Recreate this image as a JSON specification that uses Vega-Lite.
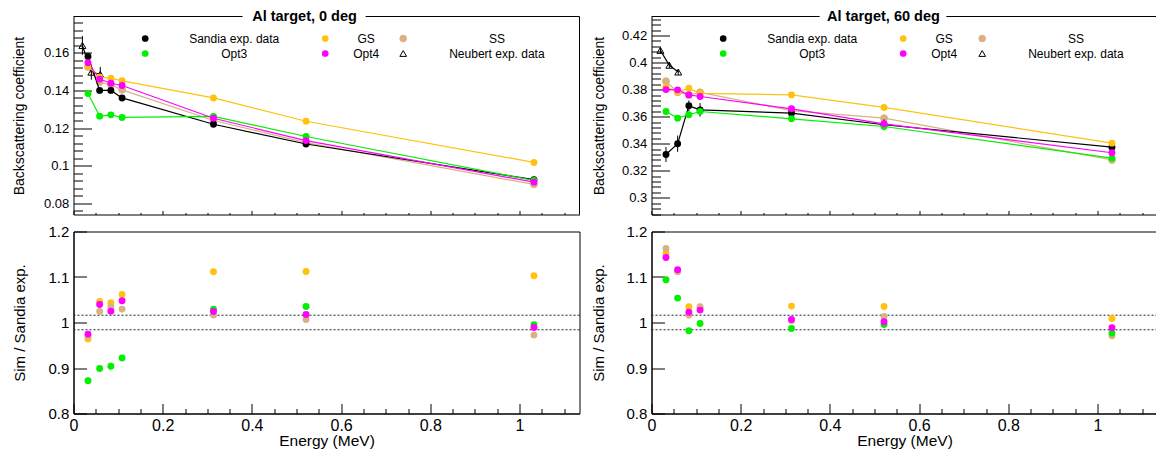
{
  "$schema": "https://vega.github.io/schema/vega-lite/v6.json",
  "description": "Al target backscattering coefficient, 0 and 60 deg, with sim / Sandia ratios",
  "background": "white",
  "padding": {"left": 11.5, "top": 8.5, "right": 0, "bottom": 0},
  "datasets": {
    "bs": [
      {"a": 0, "s": "Neubert exp. data", "E": 0.02, "v": 0.1639, "err": 0.005},
      {"a": 0, "s": "Neubert exp. data", "E": 0.04, "v": 0.1497, "err": 0.004},
      {"a": 0, "s": "Neubert exp. data", "E": 0.06, "v": 0.1485, "err": 0.004},
      {"a": 0, "s": "SS", "E": 0.0325, "v": 0.1525},
      {"a": 0, "s": "SS", "E": 0.0586, "v": 0.1444},
      {"a": 0, "s": "SS", "E": 0.0838, "v": 0.143},
      {"a": 0, "s": "SS", "E": 0.1089, "v": 0.1403},
      {"a": 0, "s": "SS", "E": 0.3139, "v": 0.124},
      {"a": 0, "s": "SS", "E": 0.5214, "v": 0.1122},
      {"a": 0, "s": "SS", "E": 1.0324, "v": 0.09},
      {"a": 0, "s": "Sandia exp. data", "E": 0.0325, "v": 0.158, "err": 0.0015},
      {"a": 0, "s": "Sandia exp. data", "E": 0.0586, "v": 0.14, "err": 0.0015},
      {"a": 0, "s": "Sandia exp. data", "E": 0.0838, "v": 0.14, "err": 0.0015},
      {"a": 0, "s": "Sandia exp. data", "E": 0.1089, "v": 0.136, "err": 0.0015},
      {"a": 0, "s": "Sandia exp. data", "E": 0.3139, "v": 0.122, "err": 0.0015},
      {"a": 0, "s": "Sandia exp. data", "E": 0.5214, "v": 0.1115, "err": 0.0015},
      {"a": 0, "s": "Sandia exp. data", "E": 1.0324, "v": 0.0925, "err": 0.0015},
      {"a": 0, "s": "Opt3", "E": 0.0325, "v": 0.1383},
      {"a": 0, "s": "Opt3", "E": 0.0586, "v": 0.1263},
      {"a": 0, "s": "Opt3", "E": 0.0838, "v": 0.127},
      {"a": 0, "s": "Opt3", "E": 0.1089, "v": 0.1256},
      {"a": 0, "s": "Opt3", "E": 0.3139, "v": 0.1262},
      {"a": 0, "s": "Opt3", "E": 0.5214, "v": 0.1155},
      {"a": 0, "s": "Opt3", "E": 1.0324, "v": 0.0921},
      {"a": 0, "s": "GS", "E": 0.0325, "v": 0.153},
      {"a": 0, "s": "GS", "E": 0.0586, "v": 0.147},
      {"a": 0, "s": "GS", "E": 0.0838, "v": 0.1465},
      {"a": 0, "s": "GS", "E": 0.1089, "v": 0.1451},
      {"a": 0, "s": "GS", "E": 0.3139, "v": 0.136},
      {"a": 0, "s": "GS", "E": 0.5214, "v": 0.1236},
      {"a": 0, "s": "GS", "E": 1.0324, "v": 0.1017},
      {"a": 0, "s": "Opt4", "E": 0.0325, "v": 0.1547},
      {"a": 0, "s": "Opt4", "E": 0.0586, "v": 0.146},
      {"a": 0, "s": "Opt4", "E": 0.0838, "v": 0.1438},
      {"a": 0, "s": "Opt4", "E": 0.1089, "v": 0.1426},
      {"a": 0, "s": "Opt4", "E": 0.3139, "v": 0.1252},
      {"a": 0, "s": "Opt4", "E": 0.5214, "v": 0.1133},
      {"a": 0, "s": "Opt4", "E": 1.0324, "v": 0.0912},
      {"a": 60, "s": "Neubert exp. data", "E": 0.02, "v": 0.409, "err": 0.002},
      {"a": 60, "s": "Neubert exp. data", "E": 0.04, "v": 0.398, "err": 0.002},
      {"a": 60, "s": "Neubert exp. data", "E": 0.06, "v": 0.393, "err": 0.002},
      {"a": 60, "s": "SS", "E": 0.0325, "v": 0.3862},
      {"a": 60, "s": "SS", "E": 0.0586, "v": 0.378},
      {"a": 60, "s": "SS", "E": 0.0838, "v": 0.376},
      {"a": 60, "s": "SS", "E": 0.1089, "v": 0.378},
      {"a": 60, "s": "SS", "E": 0.3139, "v": 0.3645},
      {"a": 60, "s": "SS", "E": 0.5214, "v": 0.3589},
      {"a": 60, "s": "SS", "E": 1.0324, "v": 0.328},
      {"a": 60, "s": "Sandia exp. data", "E": 0.0325, "v": 0.332, "err": 0.0055},
      {"a": 60, "s": "Sandia exp. data", "E": 0.0586, "v": 0.34, "err": 0.006},
      {"a": 60, "s": "Sandia exp. data", "E": 0.0838, "v": 0.368, "err": 0.004},
      {"a": 60, "s": "Sandia exp. data", "E": 0.1089, "v": 0.365, "err": 0.005},
      {"a": 60, "s": "Sandia exp. data", "E": 0.3139, "v": 0.3626, "err": 0.003},
      {"a": 60, "s": "Sandia exp. data", "E": 0.5214, "v": 0.354, "err": 0.004},
      {"a": 60, "s": "Sandia exp. data", "E": 1.0324, "v": 0.3374, "err": 0.002},
      {"a": 60, "s": "Opt3", "E": 0.0325, "v": 0.3638},
      {"a": 60, "s": "Opt3", "E": 0.0586, "v": 0.3589},
      {"a": 60, "s": "Opt3", "E": 0.0838, "v": 0.3614},
      {"a": 60, "s": "Opt3", "E": 0.1089, "v": 0.3638},
      {"a": 60, "s": "Opt3", "E": 0.3139, "v": 0.3584},
      {"a": 60, "s": "Opt3", "E": 0.5214, "v": 0.3527},
      {"a": 60, "s": "Opt3", "E": 1.0324, "v": 0.3293},
      {"a": 60, "s": "GS", "E": 0.0325, "v": 0.382},
      {"a": 60, "s": "GS", "E": 0.0586, "v": 0.3785},
      {"a": 60, "s": "GS", "E": 0.0838, "v": 0.381},
      {"a": 60, "s": "GS", "E": 0.1089, "v": 0.3772},
      {"a": 60, "s": "GS", "E": 0.3139, "v": 0.3761},
      {"a": 60, "s": "GS", "E": 0.5214, "v": 0.3668},
      {"a": 60, "s": "GS", "E": 1.0324, "v": 0.3404},
      {"a": 60, "s": "Opt4", "E": 0.0325, "v": 0.38},
      {"a": 60, "s": "Opt4", "E": 0.0586, "v": 0.3798},
      {"a": 60, "s": "Opt4", "E": 0.0838, "v": 0.3761},
      {"a": 60, "s": "Opt4", "E": 0.1089, "v": 0.3749},
      {"a": 60, "s": "Opt4", "E": 0.3139, "v": 0.3658},
      {"a": 60, "s": "Opt4", "E": 0.5214, "v": 0.3547},
      {"a": 60, "s": "Opt4", "E": 1.0324, "v": 0.3333}
    ],
    "ratio": [
      {"a": 0, "s": "GS", "E": 0.0325, "r": 0.9635},
      {"a": 0, "s": "GS", "E": 0.0586, "r": 1.046},
      {"a": 0, "s": "GS", "E": 0.0838, "r": 1.0433},
      {"a": 0, "s": "GS", "E": 0.1089, "r": 1.0615},
      {"a": 0, "s": "GS", "E": 0.3139, "r": 1.1114},
      {"a": 0, "s": "GS", "E": 0.5214, "r": 1.112},
      {"a": 0, "s": "GS", "E": 1.0324, "r": 1.1026},
      {"a": 0, "s": "SS", "E": 0.0325, "r": 0.97},
      {"a": 0, "s": "SS", "E": 0.0586, "r": 1.0242},
      {"a": 0, "s": "SS", "E": 0.0838, "r": 1.0345},
      {"a": 0, "s": "SS", "E": 0.1089, "r": 1.0294},
      {"a": 0, "s": "SS", "E": 0.3139, "r": 1.0163},
      {"a": 0, "s": "SS", "E": 0.5214, "r": 1.0066},
      {"a": 0, "s": "SS", "E": 1.0324, "r": 0.9723},
      {"a": 0, "s": "Opt3", "E": 0.0325, "r": 0.872},
      {"a": 0, "s": "Opt3", "E": 0.0586, "r": 0.899},
      {"a": 0, "s": "Opt3", "E": 0.0838, "r": 0.904},
      {"a": 0, "s": "Opt3", "E": 0.1089, "r": 0.9218},
      {"a": 0, "s": "Opt3", "E": 0.3139, "r": 1.029},
      {"a": 0, "s": "Opt3", "E": 0.5214, "r": 1.0352},
      {"a": 0, "s": "Opt3", "E": 1.0324, "r": 0.995},
      {"a": 0, "s": "Opt4", "E": 0.0325, "r": 0.9745},
      {"a": 0, "s": "Opt4", "E": 0.0586, "r": 1.0396},
      {"a": 0, "s": "Opt4", "E": 0.0838, "r": 1.025},
      {"a": 0, "s": "Opt4", "E": 0.1089, "r": 1.0477},
      {"a": 0, "s": "Opt4", "E": 0.3139, "r": 1.0242},
      {"a": 0, "s": "Opt4", "E": 0.5214, "r": 1.0176},
      {"a": 0, "s": "Opt4", "E": 1.0324, "r": 0.989},
      {"a": 60, "s": "GS", "E": 0.0325, "r": 1.152},
      {"a": 60, "s": "GS", "E": 0.0586, "r": 1.112},
      {"a": 60, "s": "GS", "E": 0.0838, "r": 1.0345},
      {"a": 60, "s": "GS", "E": 0.1089, "r": 1.032},
      {"a": 60, "s": "GS", "E": 0.3139, "r": 1.036},
      {"a": 60, "s": "GS", "E": 0.5214, "r": 1.0352},
      {"a": 60, "s": "GS", "E": 1.0324, "r": 1.0088},
      {"a": 60, "s": "SS", "E": 0.0325, "r": 1.1626},
      {"a": 60, "s": "SS", "E": 0.0586, "r": 1.112},
      {"a": 60, "s": "SS", "E": 0.0838, "r": 1.0163},
      {"a": 60, "s": "SS", "E": 0.1089, "r": 1.0345},
      {"a": 60, "s": "SS", "E": 0.3139, "r": 1.004},
      {"a": 60, "s": "SS", "E": 0.5214, "r": 1.0132},
      {"a": 60, "s": "SS", "E": 1.0324, "r": 0.9708},
      {"a": 60, "s": "Opt3", "E": 0.0325, "r": 1.0938},
      {"a": 60, "s": "Opt3", "E": 0.0586, "r": 1.0536},
      {"a": 60, "s": "Opt3", "E": 0.0838, "r": 0.9818},
      {"a": 60, "s": "Opt3", "E": 0.1089, "r": 0.9978},
      {"a": 60, "s": "Opt3", "E": 0.3139, "r": 0.9868},
      {"a": 60, "s": "Opt3", "E": 0.5214, "r": 0.9956},
      {"a": 60, "s": "Opt3", "E": 1.0324, "r": 0.9767},
      {"a": 60, "s": "Opt4", "E": 0.0325, "r": 1.143},
      {"a": 60, "s": "Opt4", "E": 0.0586, "r": 1.1158},
      {"a": 60, "s": "Opt4", "E": 0.0838, "r": 1.0228},
      {"a": 60, "s": "Opt4", "E": 0.1089, "r": 1.0272},
      {"a": 60, "s": "Opt4", "E": 0.3139, "r": 1.0066},
      {"a": 60, "s": "Opt4", "E": 0.5214, "r": 1.0015},
      {"a": 60, "s": "Opt4", "E": 1.0324, "r": 0.9884}
    ]
  },
  "columns": 2,
  "spacing": {"row": 17, "column": 72},
  "bounds": "flush",
  "resolve": {
    "scale": {"color": "independent", "fill": "independent", "stroke": "independent", "shape": "independent"},
    "legend": {"color": "independent", "fill": "independent", "stroke": "independent", "shape": "independent"}
  },
  "concat": [
    {
      "width": 506,
      "height": 198,
      "data": {"name": "bs"},
      "transform": [{"filter": "datum.a == 0"}],
      "view": {"stroke": null},
      "layer": [
        {
          "transform": [{"filter": "datum.s == 'SS' || datum.s == 'Neubert exp. data'"}],
          "mark": {"type": "line", "strokeWidth": 1.2},
          "encoding": {
            "x": {
              "field": "E", "type": "quantitative",
              "scale": {"domain": [0, 1.1345], "nice": false, "zero": false},
              "axis": {
                "orient": "bottom", "title": null, "labels": false,
                "values": [0, 0.05, 0.1, 0.15, 0.2, 0.25, 0.3, 0.35, 0.4, 0.45, 0.5, 0.55, 0.6, 0.65, 0.7, 0.75, 0.8, 0.85, 0.9, 0.95, 1, 1.05, 1.1],
                "tickSize": {"condition": {"test": "round(datum.value*100) % 20 == 0", "value": -4}, "value": -2}
              }
            },
            "y": {
              "field": "v", "type": "quantitative",
              "scale": {"domain": [0.074, 0.1793], "nice": false, "zero": false},
              "axis": {
                "orient": "left",
                "title": "Backscattering coefficient", "titleFontSize": 14, "titleX": -54, "titleY": 99, "titleAlign": "center", "titleBaseline": "middle", "titleAngle": -90,
                "values": [0.076, 0.08, 0.084, 0.088, 0.092, 0.096, 0.1, 0.104, 0.108, 0.112, 0.116, 0.12, 0.124, 0.128, 0.132, 0.136, 0.14, 0.144, 0.148, 0.152, 0.156, 0.16, 0.164, 0.168, 0.172, 0.176],
                "labelExpr": "round(datum.value*1000) % 20 == 0 ? format(datum.value, '~g') : ''",
                "labelFontSize": 13, "labelPadding": 22.7,
                "tickSize": {"condition": {"test": "round(datum.value*1000) % 20 == 0", "value": -18}, "value": -9}
              }
            },
            "stroke": {"field": "s", "type": "nominal", "scale": {"domain": ["SS", "Neubert exp. data"], "range": ["#d9b283", "#000000"]}, "legend": null}
          }
        },
        {"data": {"values": [{}]}, "mark": {"type": "rule", "color": "black", "strokeWidth": 1},
          "encoding": {"x": {"datum": 0, "type": "quantitative", "axis": null}, "x2": {"datum": 0.379}, "y": {"datum": 0.1793, "type": "quantitative", "axis": null}}},
        {"data": {"values": [{}]}, "mark": {"type": "rule", "color": "black", "strokeWidth": 1},
          "encoding": {"x": {"datum": 0.655, "type": "quantitative", "axis": null}, "x2": {"datum": 1.1345}, "y": {"datum": 0.1793, "type": "quantitative", "axis": null}}},
        {"data": {"values": [{}]}, "mark": {"type": "rule", "color": "black", "strokeWidth": 1},
          "encoding": {"x": {"datum": 1.1345, "type": "quantitative", "axis": null}}},
        {"data": {"values": [{}]}, "mark": {"type": "text", "text": "Al target, 0 deg", "font": "Liberation Sans", "fontSize": 14.5, "fontWeight": "bold", "color": "black", "align": "center", "baseline": "alphabetic", "dy": 4},
          "encoding": {"x": {"datum": 0.518, "type": "quantitative", "axis": null}, "y": {"datum": 0.1793, "type": "quantitative", "axis": null}}},
        {
          "transform": [{"filter": "datum.s == 'Neubert exp. data'"}],
          "mark": {"type": "errorbar", "color": "black", "thickness": 1},
          "encoding": {
            "x": {"field": "E", "type": "quantitative", "axis": null},
            "y": {"field": "v", "type": "quantitative", "axis": null},
            "yError": {"field": "err"}
          }
        },
        {
          "transform": [{"filter": "datum.s == 'SS' || datum.s == 'Neubert exp. data'"}],
          "mark": {"type": "point", "filled": true, "size": 48, "strokeWidth": 1, "opacity": 1},
          "encoding": {
            "x": {"field": "E", "type": "quantitative", "axis": null},
            "y": {"field": "v", "type": "quantitative", "axis": null},
            "stroke": {"field": "s", "type": "nominal", "scale": {"domain": ["SS", "Neubert exp. data"], "range": ["#d9b283", "#000000"]},
              "legend": {"orient": "none", "legendX": 323.7, "legendY": 16, "title": null, "direction": "vertical", "labelAlign": "center", "labelOffset": 87.7, "symbolSize": 45, "rowPadding": 3, "padding": 0, "labelFontSize": 12, "symbolStrokeWidth": 1}},
            "fill": {"field": "s", "type": "nominal", "scale": {"domain": ["SS", "Neubert exp. data"], "range": ["#d9b283", "transparent"]},
              "legend": {"orient": "none", "legendX": 323.7, "legendY": 16, "title": null, "direction": "vertical", "labelAlign": "center", "labelOffset": 87.7, "symbolSize": 45, "rowPadding": 3, "padding": 0, "labelFontSize": 12, "symbolStrokeWidth": 1}},
            "shape": {"field": "s", "type": "nominal", "scale": {"domain": ["SS", "Neubert exp. data"], "range": ["circle", "triangle-up"]},
              "legend": {"orient": "none", "legendX": 323.7, "legendY": 16, "title": null, "direction": "vertical", "labelAlign": "center", "labelOffset": 87.7, "symbolSize": 45, "rowPadding": 3, "padding": 0, "labelFontSize": 12, "symbolStrokeWidth": 1}}
          }
        },
        {
          "transform": [{"filter": "datum.s == 'Sandia exp. data' || datum.s == 'Opt3'"}],
          "mark": {"type": "line", "strokeWidth": 1.2},
          "encoding": {
            "x": {"field": "E", "type": "quantitative", "axis": null},
            "y": {"field": "v", "type": "quantitative", "axis": null},
            "color": {"field": "s", "type": "nominal", "scale": {"domain": ["Sandia exp. data", "Opt3"], "range": ["#000000", "#00f000"]}, "legend": null}
          }
        },
        {
          "transform": [{"filter": "datum.s == 'Sandia exp. data'"}],
          "mark": {"type": "errorbar", "color": "black", "thickness": 1},
          "encoding": {
            "x": {"field": "E", "type": "quantitative", "axis": null},
            "y": {"field": "v", "type": "quantitative", "axis": null},
            "yError": {"field": "err"}
          }
        },
        {
          "transform": [{"filter": "datum.s == 'Sandia exp. data' || datum.s == 'Opt3'"}],
          "mark": {"type": "point", "filled": true, "size": 48, "opacity": 1},
          "encoding": {
            "x": {"field": "E", "type": "quantitative", "axis": null},
            "y": {"field": "v", "type": "quantitative", "axis": null},
            "color": {"field": "s", "type": "nominal", "scale": {"domain": ["Sandia exp. data", "Opt3"], "range": ["#000000", "#00f000"]},
              "legend": {"orient": "none", "legendX": 65.7, "legendY": 16, "title": null, "direction": "vertical", "labelAlign": "center", "labelOffset": 83, "symbolSize": 45, "symbolType": "circle", "rowPadding": 3, "padding": 0, "labelFontSize": 12, "symbolStrokeWidth": 0}}
          }
        },
        {
          "transform": [{"filter": "datum.s == 'GS' || datum.s == 'Opt4'"}],
          "mark": {"type": "line", "strokeWidth": 1.2},
          "encoding": {
            "x": {"field": "E", "type": "quantitative", "axis": null},
            "y": {"field": "v", "type": "quantitative", "axis": null},
            "color": {"field": "s", "type": "nominal", "scale": {"domain": ["GS", "Opt4"], "range": ["#ffc20e", "#ff00ff"]}, "legend": null}
          }
        },
        {
          "transform": [{"filter": "datum.s == 'GS' || datum.s == 'Opt4'"}],
          "mark": {"type": "point", "filled": true, "size": 48, "opacity": 1},
          "encoding": {
            "x": {"field": "E", "type": "quantitative", "axis": null},
            "y": {"field": "v", "type": "quantitative", "axis": null},
            "color": {"field": "s", "type": "nominal", "scale": {"domain": ["GS", "Opt4"], "range": ["#ffc20e", "#ff00ff"]},
              "legend": {"orient": "none", "legendX": 245.7, "legendY": 16, "title": null, "direction": "vertical", "labelAlign": "center", "labelOffset": 35, "symbolSize": 45, "symbolType": "circle", "rowPadding": 3, "padding": 0, "labelFontSize": 12, "symbolStrokeWidth": 0}}
          }
        }
      ],
      "resolve": {
        "scale": {"color": "independent", "fill": "independent", "stroke": "independent", "shape": "independent"},
        "axis": {"x": "independent", "y": "independent"}
      }
    },
    {
      "width": 506,
      "height": 198,
      "data": {"name": "bs"},
      "transform": [{"filter": "datum.a == 60"}],
      "view": {"stroke": null},
      "layer": [
        {
          "transform": [{"filter": "datum.s == 'SS' || datum.s == 'Neubert exp. data'"}],
          "mark": {"type": "line", "strokeWidth": 1.2},
          "encoding": {
            "x": {
              "field": "E", "type": "quantitative",
              "scale": {"domain": [0, 1.1345], "nice": false, "zero": false},
              "axis": {
                "orient": "bottom", "title": null, "labels": false,
                "values": [0, 0.05, 0.1, 0.15, 0.2, 0.25, 0.3, 0.35, 0.4, 0.45, 0.5, 0.55, 0.6, 0.65, 0.7, 0.75, 0.8, 0.85, 0.9, 0.95, 1, 1.05, 1.1],
                "tickSize": {"condition": {"test": "round(datum.value*100) % 20 == 0", "value": -4}, "value": -2}
              }
            },
            "y": {
              "field": "v", "type": "quantitative",
              "scale": {"domain": [0.28765, 0.43405], "nice": false, "zero": false},
              "axis": {
                "orient": "left",
                "title": "Backscattering coefficient", "titleFontSize": 14, "titleX": -52, "titleY": 99, "titleAlign": "center", "titleBaseline": "middle", "titleAngle": -90,
                "values": [0.288, 0.292, 0.296, 0.3, 0.304, 0.308, 0.312, 0.316, 0.32, 0.324, 0.328, 0.332, 0.336, 0.34, 0.344, 0.348, 0.352, 0.356, 0.36, 0.364, 0.368, 0.372, 0.376, 0.38, 0.384, 0.388, 0.392, 0.396, 0.4, 0.404, 0.408, 0.412, 0.416, 0.42, 0.424, 0.428, 0.432],
                "labelExpr": "round(datum.value*1000) % 20 == 0 ? format(datum.value, '~g') : ''",
                "labelFontSize": 13, "labelPadding": 22.7,
                "tickSize": {"condition": {"test": "round(datum.value*1000) % 20 == 0", "value": -18}, "value": -9}
              }
            },
            "stroke": {"field": "s", "type": "nominal", "scale": {"domain": ["SS", "Neubert exp. data"], "range": ["#d9b283", "#000000"]}, "legend": null}
          }
        },
        {"data": {"values": [{}]}, "mark": {"type": "rule", "color": "black", "strokeWidth": 1},
          "encoding": {"x": {"datum": 0, "type": "quantitative", "axis": null}, "x2": {"datum": 0.377}, "y": {"datum": 0.43405, "type": "quantitative", "axis": null}}},
        {"data": {"values": [{}]}, "mark": {"type": "rule", "color": "black", "strokeWidth": 1},
          "encoding": {"x": {"datum": 0.661, "type": "quantitative", "axis": null}, "x2": {"datum": 1.1345}, "y": {"datum": 0.43405, "type": "quantitative", "axis": null}}},
        {"data": {"values": [{}]}, "mark": {"type": "text", "text": "Al target, 60 deg", "font": "Liberation Sans", "fontSize": 14.5, "fontWeight": "bold", "color": "black", "align": "center", "baseline": "alphabetic", "dy": 4},
          "encoding": {"x": {"datum": 0.52, "type": "quantitative", "axis": null}, "y": {"datum": 0.43405, "type": "quantitative", "axis": null}}},
        {
          "transform": [{"filter": "datum.s == 'Neubert exp. data'"}],
          "mark": {"type": "errorbar", "color": "black", "thickness": 1},
          "encoding": {
            "x": {"field": "E", "type": "quantitative", "axis": null},
            "y": {"field": "v", "type": "quantitative", "axis": null},
            "yError": {"field": "err"}
          }
        },
        {
          "transform": [{"filter": "datum.s == 'SS' || datum.s == 'Neubert exp. data'"}],
          "mark": {"type": "point", "filled": true, "size": 48, "strokeWidth": 1, "opacity": 1},
          "encoding": {
            "x": {"field": "E", "type": "quantitative", "axis": null},
            "y": {"field": "v", "type": "quantitative", "axis": null},
            "stroke": {"field": "s", "type": "nominal", "scale": {"domain": ["SS", "Neubert exp. data"], "range": ["#d9b283", "#000000"]},
              "legend": {"orient": "none", "legendX": 324.7, "legendY": 16, "title": null, "direction": "vertical", "labelAlign": "center", "labelOffset": 87.7, "symbolSize": 45, "rowPadding": 3, "padding": 0, "labelFontSize": 12, "symbolStrokeWidth": 1}},
            "fill": {"field": "s", "type": "nominal", "scale": {"domain": ["SS", "Neubert exp. data"], "range": ["#d9b283", "transparent"]},
              "legend": {"orient": "none", "legendX": 324.7, "legendY": 16, "title": null, "direction": "vertical", "labelAlign": "center", "labelOffset": 87.7, "symbolSize": 45, "rowPadding": 3, "padding": 0, "labelFontSize": 12, "symbolStrokeWidth": 1}},
            "shape": {"field": "s", "type": "nominal", "scale": {"domain": ["SS", "Neubert exp. data"], "range": ["circle", "triangle-up"]},
              "legend": {"orient": "none", "legendX": 324.7, "legendY": 16, "title": null, "direction": "vertical", "labelAlign": "center", "labelOffset": 87.7, "symbolSize": 45, "rowPadding": 3, "padding": 0, "labelFontSize": 12, "symbolStrokeWidth": 1}}
          }
        },
        {
          "transform": [{"filter": "datum.s == 'Sandia exp. data' || datum.s == 'Opt3'"}],
          "mark": {"type": "line", "strokeWidth": 1.2},
          "encoding": {
            "x": {"field": "E", "type": "quantitative", "axis": null},
            "y": {"field": "v", "type": "quantitative", "axis": null},
            "color": {"field": "s", "type": "nominal", "scale": {"domain": ["Sandia exp. data", "Opt3"], "range": ["#000000", "#00f000"]}, "legend": null}
          }
        },
        {
          "transform": [{"filter": "datum.s == 'Sandia exp. data'"}],
          "mark": {"type": "errorbar", "color": "black", "thickness": 1},
          "encoding": {
            "x": {"field": "E", "type": "quantitative", "axis": null},
            "y": {"field": "v", "type": "quantitative", "axis": null},
            "yError": {"field": "err"}
          }
        },
        {
          "transform": [{"filter": "datum.s == 'Sandia exp. data' || datum.s == 'Opt3'"}],
          "mark": {"type": "point", "filled": true, "size": 48, "opacity": 1},
          "encoding": {
            "x": {"field": "E", "type": "quantitative", "axis": null},
            "y": {"field": "v", "type": "quantitative", "axis": null},
            "color": {"field": "s", "type": "nominal", "scale": {"domain": ["Sandia exp. data", "Opt3"], "range": ["#000000", "#00f000"]},
              "legend": {"orient": "none", "legendX": 65.7, "legendY": 16, "title": null, "direction": "vertical", "labelAlign": "center", "labelOffset": 83, "symbolSize": 45, "symbolType": "circle", "rowPadding": 3, "padding": 0, "labelFontSize": 12, "symbolStrokeWidth": 0}}
          }
        },
        {
          "transform": [{"filter": "datum.s == 'GS' || datum.s == 'Opt4'"}],
          "mark": {"type": "line", "strokeWidth": 1.2},
          "encoding": {
            "x": {"field": "E", "type": "quantitative", "axis": null},
            "y": {"field": "v", "type": "quantitative", "axis": null},
            "color": {"field": "s", "type": "nominal", "scale": {"domain": ["GS", "Opt4"], "range": ["#ffc20e", "#ff00ff"]}, "legend": null}
          }
        },
        {
          "transform": [{"filter": "datum.s == 'GS' || datum.s == 'Opt4'"}],
          "mark": {"type": "point", "filled": true, "size": 48, "opacity": 1},
          "encoding": {
            "x": {"field": "E", "type": "quantitative", "axis": null},
            "y": {"field": "v", "type": "quantitative", "axis": null},
            "color": {"field": "s", "type": "nominal", "scale": {"domain": ["GS", "Opt4"], "range": ["#ffc20e", "#ff00ff"]},
              "legend": {"orient": "none", "legendX": 245.7, "legendY": 16, "title": null, "direction": "vertical", "labelAlign": "center", "labelOffset": 35, "symbolSize": 45, "symbolType": "circle", "rowPadding": 3, "padding": 0, "labelFontSize": 12, "symbolStrokeWidth": 0}}
          }
        }
      ],
      "resolve": {
        "scale": {"color": "independent", "fill": "independent", "stroke": "independent", "shape": "independent"},
        "axis": {"x": "independent", "y": "independent"}
      }
    },
    {
      "width": 506,
      "height": 182,
      "data": {"name": "ratio"},
      "transform": [{"filter": "datum.a == 0"}],
      "layer": [
        {"data": {"values": [{}]}, "mark": {"type": "rule", "color": "#222222", "strokeWidth": 1, "strokeDash": [2, 2]}, "encoding": {"y": {"datum": 1.016}}},
        {"data": {"values": [{}]}, "mark": {"type": "rule", "color": "#222222", "strokeWidth": 1, "strokeDash": [2, 2]}, "encoding": {"y": {"datum": 0.984}}},
        {
          "mark": {"type": "circle", "size": 48, "opacity": 1},
          "encoding": {
            "x": {
              "field": "E", "type": "quantitative",
              "scale": {"domain": [0, 1.1345], "nice": false, "zero": false},
              "axis": {
                "title": "Energy (MeV)", "titleFontSize": 15.5, "titleY": 32, "titleBaseline": "alphabetic",
                "values": [0, 0.05, 0.1, 0.15, 0.2, 0.25, 0.3, 0.35, 0.4, 0.45, 0.5, 0.55, 0.6, 0.65, 0.7, 0.75, 0.8, 0.85, 0.9, 0.95, 1, 1.05, 1.1],
                "labelExpr": "round(datum.value*100) % 20 == 0 ? format(datum.value, '~g') : ''",
                "labelFontSize": 16, "labelPadding": 14,
                "tickSize": {"condition": {"test": "round(datum.value*100) % 20 == 0", "value": -10}, "value": -5}
              }
            },
            "y": {
              "field": "r", "type": "quantitative",
              "scale": {"domain": [0.8, 1.2], "nice": false, "zero": false},
              "axis": {
                "title": "Sim / Sandia exp.", "titleFontSize": 15, "titleX": -54, "titleY": 91, "titleAlign": "center", "titleBaseline": "middle", "titleAngle": -90,
                "values": [0.8, 0.9, 1, 1.1, 1.2],
                "labelExpr": "format(datum.value, '~g')",
                "labelFontSize": 15, "labelPadding": 17.7, "tickSize": -13
              }
            },
            "color": {"field": "s", "type": "nominal", "scale": {"domain": ["GS", "SS", "Opt3", "Opt4"], "range": ["#ffc20e", "#d9b283", "#00f000", "#ff00ff"]}, "legend": null}
          }
        }
      ]
    },
    {
      "width": 506,
      "height": 182,
      "data": {"name": "ratio"},
      "transform": [{"filter": "datum.a == 60"}],
      "layer": [
        {"data": {"values": [{}]}, "mark": {"type": "rule", "color": "#222222", "strokeWidth": 1, "strokeDash": [2, 2]}, "encoding": {"y": {"datum": 1.016}}},
        {"data": {"values": [{}]}, "mark": {"type": "rule", "color": "#222222", "strokeWidth": 1, "strokeDash": [2, 2]}, "encoding": {"y": {"datum": 0.984}}},
        {
          "mark": {"type": "circle", "size": 48, "opacity": 1},
          "encoding": {
            "x": {
              "field": "E", "type": "quantitative",
              "scale": {"domain": [0, 1.1345], "nice": false, "zero": false},
              "axis": {
                "title": "Energy (MeV)", "titleFontSize": 15.5, "titleY": 32, "titleBaseline": "alphabetic",
                "values": [0, 0.05, 0.1, 0.15, 0.2, 0.25, 0.3, 0.35, 0.4, 0.45, 0.5, 0.55, 0.6, 0.65, 0.7, 0.75, 0.8, 0.85, 0.9, 0.95, 1, 1.05, 1.1],
                "labelExpr": "round(datum.value*100) % 20 == 0 ? format(datum.value, '~g') : ''",
                "labelFontSize": 16, "labelPadding": 14,
                "tickSize": {"condition": {"test": "round(datum.value*100) % 20 == 0", "value": -10}, "value": -5}
              }
            },
            "y": {
              "field": "r", "type": "quantitative",
              "scale": {"domain": [0.8, 1.2], "nice": false, "zero": false},
              "axis": {
                "title": "Sim / Sandia exp.", "titleFontSize": 15, "titleX": -53, "titleY": 91, "titleAlign": "center", "titleBaseline": "middle", "titleAngle": -90,
                "values": [0.8, 0.9, 1, 1.1, 1.2],
                "labelExpr": "format(datum.value, '~g')",
                "labelFontSize": 15, "labelPadding": 17.7, "tickSize": -13
              }
            },
            "color": {"field": "s", "type": "nominal", "scale": {"domain": ["GS", "SS", "Opt3", "Opt4"], "range": ["#ffc20e", "#d9b283", "#00f000", "#ff00ff"]}, "legend": null}
          }
        }
      ]
    }
  ],
  "config": {
    "font": "Liberation Sans",
    "view": {"stroke": "black", "strokeWidth": 1},
    "axis": {
      "labelFont": "Liberation Sans", "titleFont": "Liberation Sans", "labelColor": "black", "titleColor": "black",
      "titleFontWeight": "normal", "domainColor": "black", "tickColor": "black", "domainWidth": 1, "tickWidth": 1,
      "grid": false, "labelOverlap": false, "labelFlush": false, "labelBound": false
    },
    "legend": {"labelFont": "Liberation Sans", "labelColor": "black", "labelFontSize": 12}
  }
}
